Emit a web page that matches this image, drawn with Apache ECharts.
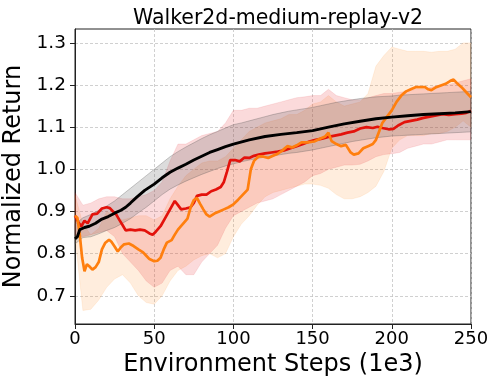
<!DOCTYPE html>
<html>
<head>
<meta charset="utf-8">
<script src="https://cdn.jsdelivr.net/npm/echarts@6/dist/echarts.min.js"></script>
<style>
  html, body { margin: 0; padding: 0; background: #fff; }
  #chart { width: 498px; height: 388px; }
</style>
</head>
<body>
<div id="chart"></div>
<script>
// tick labels
var xTicks = [0, 50, 100, 150, 200, 250];
var yTicks = [0.7, 0.8, 0.9, 1.0, 1.1, 1.2, 1.3];

// red run
var redX = [0, 2, 4, 6, 8, 11, 14, 17, 20, 22, 24, 26, 28, 30, 32, 35, 38, 41, 44, 47, 49, 51, 54, 57, 60, 63, 65, 67, 70, 73, 75, 77, 80, 83, 86, 89, 92, 94, 96, 98, 101, 104, 107, 110, 113, 116, 120, 124, 128, 132, 136, 140, 144, 148, 152, 156, 160, 164, 168, 172, 176, 180, 184, 188, 191, 194, 198, 201, 204, 208, 212, 216, 220, 224, 228, 232, 236, 240, 244, 247, 250];
var redY = [0.89, 0.875, 0.865, 0.878, 0.872, 0.893, 0.895, 0.907, 0.91, 0.908, 0.90, 0.893, 0.88, 0.868, 0.855, 0.857, 0.855, 0.857, 0.855, 0.848, 0.845, 0.852, 0.865, 0.885, 0.905, 0.925, 0.915, 0.905, 0.907, 0.91, 0.92, 0.937, 0.94, 0.94, 0.948, 0.952, 0.958, 0.97, 0.995, 1.022, 1.022, 1.019, 1.028, 1.027, 1.032, 1.035, 1.038, 1.04, 1.042, 1.045, 1.05, 1.055, 1.06, 1.066, 1.07, 1.073, 1.077, 1.08, 1.083, 1.087, 1.09, 1.097, 1.1, 1.098, 1.101, 1.098, 1.095, 1.096, 1.104, 1.112, 1.115, 1.118, 1.122, 1.125, 1.128, 1.131, 1.129, 1.131, 1.132, 1.134, 1.139];

// orange run
var orgX = [0, 1.5, 3, 4.5, 6, 7.5, 9, 11, 13, 15, 17, 19, 21.5, 23, 25, 27, 29, 31, 34, 37, 40, 43, 45, 47, 50, 52, 54, 56, 58, 61, 63, 65, 68, 71, 73, 75, 77, 79, 81, 83, 85, 88, 91, 94, 97, 100, 103, 106, 109, 111, 113, 116, 119, 122, 125, 128, 131, 134, 137, 140, 143, 147, 151, 155, 158, 160, 162, 165, 168, 171, 174, 176, 179, 182, 185, 188, 190, 192, 194, 197, 200, 203, 206, 209, 212, 215, 218, 221, 223, 225, 228, 231, 234, 237, 239, 241, 244, 247, 250];
var orgY = [0.89, 0.885, 0.845, 0.79, 0.758, 0.775, 0.77, 0.762, 0.768, 0.78, 0.81, 0.825, 0.833, 0.828, 0.817, 0.805, 0.815, 0.822, 0.824, 0.818, 0.81, 0.803, 0.795, 0.787, 0.782, 0.783, 0.79, 0.81, 0.826, 0.832, 0.845, 0.857, 0.87, 0.883, 0.91, 0.927, 0.932, 0.918, 0.905, 0.893, 0.888, 0.895, 0.9, 0.905, 0.91, 0.917, 0.928, 0.94, 0.952, 1.0, 1.02, 1.031, 1.03, 1.027, 1.032, 1.037, 1.045, 1.055, 1.052, 1.057, 1.064, 1.064, 1.066, 1.073, 1.078, 1.087, 1.067, 1.06, 1.055, 1.058, 1.04, 1.035, 1.038, 1.05, 1.055, 1.06, 1.07, 1.09, 1.11, 1.125, 1.14, 1.16, 1.175, 1.185, 1.19, 1.195, 1.195, 1.195, 1.19, 1.188, 1.195, 1.199, 1.203, 1.21, 1.213, 1.205, 1.195, 1.183, 1.171];

// black run (mean)
var blkX = [0, 1.5, 3, 6, 9, 13, 17, 21, 25, 29, 32, 35, 39, 44, 50, 55, 60, 65, 70, 75, 80, 85, 90, 95, 100, 110, 120, 130, 140, 150, 160, 170, 180, 190, 200, 210, 220, 230, 240, 250];
var blkY = [0.835, 0.84, 0.857, 0.862, 0.865, 0.872, 0.882, 0.888, 0.896, 0.903, 0.91, 0.92, 0.934, 0.95, 0.965, 0.98, 0.993, 1.003, 1.012, 1.022, 1.031, 1.04, 1.047, 1.054, 1.06, 1.07, 1.078, 1.083, 1.087, 1.092, 1.1, 1.108, 1.114, 1.12, 1.124, 1.127, 1.13, 1.132, 1.134, 1.137];

// shaded bands, sampled every 5
var bandX = [0, 5, 10, 15, 20, 25, 30, 35, 40, 45, 50, 55, 60, 65, 70, 75, 80, 85, 90, 95, 100, 105, 110, 115, 120, 125, 130, 135, 140, 145, 150, 155, 160, 165, 170, 175, 180, 185, 190, 195, 200, 205, 210, 215, 220, 225, 230, 235, 240, 245, 250];
var redHi = [0.945, 0.915, 0.92, 0.93, 0.935, 0.935, 0.93, 0.93, 0.935, 0.94, 0.95, 0.97, 1.02, 1.06, 1.06, 1.07, 1.08, 1.085, 1.09, 1.11, 1.14, 1.14, 1.145, 1.145, 1.15, 1.155, 1.16, 1.165, 1.17, 1.172, 1.175, 1.175, 1.19, 1.175, 1.17, 1.165, 1.165, 1.17, 1.175, 1.18, 1.18, 1.183, 1.185, 1.19, 1.19, 1.195, 1.2, 1.2, 1.205, 1.21, 1.215];
var redLo = [0.845, 0.84, 0.845, 0.85, 0.855, 0.84, 0.8, 0.78, 0.76, 0.735, 0.72, 0.73, 0.76, 0.77, 0.75, 0.75, 0.78, 0.8, 0.82, 0.86, 0.89, 0.9, 0.91, 0.92, 0.925, 0.93, 0.94, 0.95, 0.96, 0.97, 0.985, 0.99, 1.0, 1.005, 1.01, 1.01, 1.012, 1.02, 1.03, 1.035, 1.037, 1.04, 1.05, 1.055, 1.06, 1.06, 1.065, 1.07, 1.07, 1.07, 1.07];
var orgHi = [0.94, 0.87, 0.845, 0.86, 0.9, 0.89, 0.88, 0.885, 0.89, 0.89, 0.88, 0.89, 0.93, 0.96, 0.985, 1.0, 1.015, 1.02, 1.02, 1.03, 1.05, 1.07, 1.09, 1.1, 1.11, 1.115, 1.12, 1.13, 1.13, 1.14, 1.155, 1.16, 1.175, 1.16, 1.15, 1.155, 1.16, 1.18, 1.245, 1.27, 1.29, 1.285, 1.28, 1.28, 1.28, 1.278, 1.28, 1.28, 1.285, 1.3, 1.3];
var orgLo = [0.84, 0.665, 0.668, 0.69, 0.72, 0.74, 0.75, 0.73, 0.7, 0.684, 0.68, 0.7, 0.735, 0.76, 0.77, 0.785, 0.795, 0.8, 0.79, 0.8, 0.84, 0.87, 0.89, 0.915, 0.935, 0.945, 0.95, 0.955, 0.96, 0.965, 0.965, 0.962, 0.955, 0.94, 0.93, 0.93, 0.935, 0.945, 0.96, 0.995, 1.05, 1.07, 1.08, 1.08, 1.08, 1.085, 1.085, 1.09, 1.1, 1.115, 1.1];
var gryHi = [0.87, 0.885, 0.893, 0.903, 0.913, 0.925, 0.94, 0.955, 0.97, 0.985, 1.0, 1.015, 1.03, 1.042, 1.053, 1.063, 1.073, 1.082, 1.09, 1.098, 1.106, 1.11, 1.115, 1.12, 1.125, 1.13, 1.134, 1.138, 1.141, 1.144, 1.147, 1.151, 1.155, 1.159, 1.162, 1.165, 1.168, 1.17, 1.172, 1.173, 1.174, 1.176, 1.177, 1.178, 1.179, 1.18, 1.181, 1.182, 1.183, 1.184, 1.185];
var gryLo = [0.823, 0.838, 0.84, 0.847, 0.855, 0.862, 0.872, 0.883, 0.897, 0.91, 0.925, 0.94, 0.953, 0.963, 0.972, 0.98, 0.988, 0.995, 1.002, 1.008, 1.013, 1.018, 1.022, 1.026, 1.029, 1.032, 1.035, 1.038, 1.04, 1.043, 1.046, 1.05, 1.054, 1.058, 1.062, 1.066, 1.069, 1.072, 1.075, 1.077, 1.079, 1.08, 1.081, 1.082, 1.083, 1.084, 1.085, 1.086, 1.087, 1.088, 1.089];

function pairs(xs, ys) {
  return xs.map(function (x, i) { return [x, ys[i]]; });
}

// one filled polygon between lo and hi, placed with the axis scales
function band(lo, hi, fill, edge) {
  return {
    type: 'custom',
    silent: true,
    data: [[bandX[0], lo[0]]],
    renderItem: function (params, api) {
      var pts = [];
      for (var i = 0; i < bandX.length; i++) pts.push(api.coord([bandX[i], hi[i]]));
      for (var j = bandX.length - 1; j >= 0; j--) pts.push(api.coord([bandX[j], lo[j]]));
      return {
        type: 'polygon',
        shape: { points: pts },
        style: { fill: fill, stroke: edge, lineWidth: 0.8 }
      };
    }
  };
}

function run(xs, ys, color, w) {
  return {
    type: 'line',
    data: pairs(xs, ys),
    showSymbol: false,
    silent: true,
    lineStyle: { color: color, width: w },
    animation: false
  };
}

var font = 'DejaVu Sans';
var chart = echarts.init(document.getElementById('chart'), null, { renderer: 'canvas' });
chart.setOption({
  animation: false,
  title: {
    text: 'Walker2d-medium-replay-v2',
    left: 273,
    top: 3,
    textAlign: 'center',
    textStyle: { fontFamily: font, fontSize: 20.5, fontWeight: 'normal', color: '#000' }
  },
  grid: {
    left: 75, right: 27, top: 29, bottom: 64,
    outerBoundsMode: 'none',
    containLabel: false,
    show: true, borderColor: '#222', borderWidth: 1
  },
  xAxis: {
    type: 'value',
    min: 0, max: 250, interval: 50,
    name: 'Environment Steps (1e3)',
    nameLocation: 'middle',
    nameGap: 29,
    nameTextStyle: { fontFamily: font, fontSize: 24, color: '#000' },
    axisLine: { lineStyle: { color: '#222' } },
    axisTick: { length: 5, lineStyle: { color: '#222' } },
    axisLabel: { fontFamily: font, fontSize: 18, color: '#000', margin: 6 },
    splitLine: { lineStyle: { color: '#c4c4c4', type: [3, 2], width: 0.8 } }
  },
  yAxis: {
    type: 'value',
    min: 0.633, max: 1.333,
    name: 'Normalized Return',
    nameLocation: 'middle',
    nameGap: 44,
    nameTextStyle: { fontFamily: font, fontSize: 24, color: '#000' },
    axisLine: { show: true, lineStyle: { color: '#222' } },
    axisTick: { show: true, length: 5, customValues: yTicks, lineStyle: { color: '#222' } },
    axisLabel: {
      customValues: yTicks,
      fontFamily: font, fontSize: 18.5, color: '#000', margin: 9,
      formatter: function (v) { return v.toFixed(1); }
    },
    splitLine: { lineStyle: { color: '#c4c4c4', type: [3, 2], width: 0.8 } }
  },
  series: [
    band(orgLo, orgHi, 'rgba(255,127,14,0.14)', 'rgba(255,127,14,0.12)'),
    band(redLo, redHi, 'rgba(228,26,28,0.16)', 'rgba(228,26,28,0.12)'),
    band(gryLo, gryHi, 'rgba(80,80,80,0.2)', 'rgba(80,80,80,0.38)'),
    run(redX, redY, '#e3120b', 2.7),
    run(orgX, orgY, '#ff7f0e', 2.7),
    run(blkX, blkY, '#000000', 2.9)
  ]
});
</script>
</body>
</html>
